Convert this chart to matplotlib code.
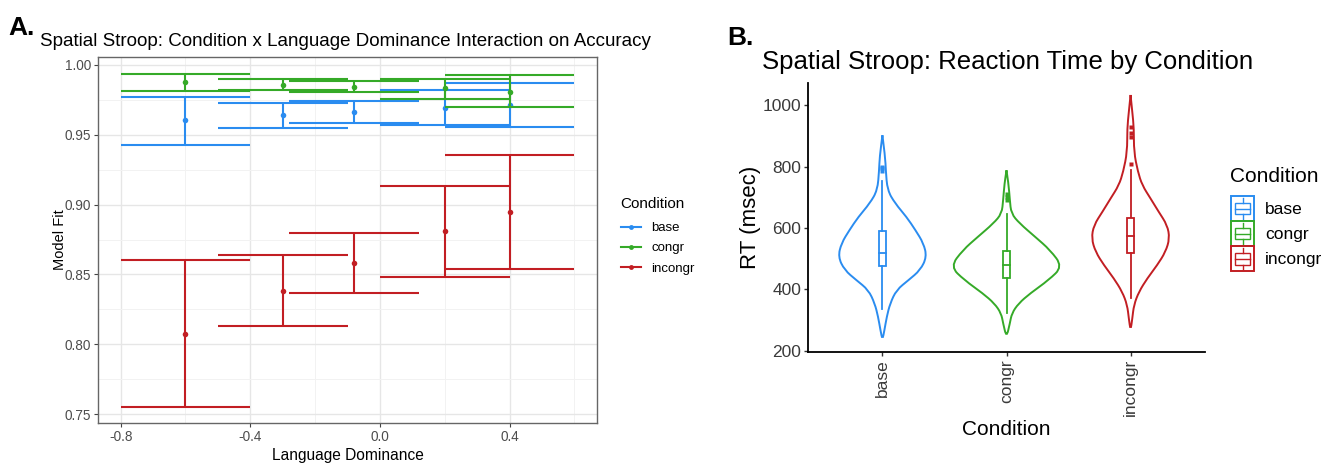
import numpy as np
import matplotlib
matplotlib.use("Agg")
import matplotlib.pyplot as plt
from matplotlib.path import Path
from matplotlib.patches import PathPatch, Rectangle
from matplotlib.lines import Line2D
from matplotlib.legend_handler import HandlerBase

plt.rcParams['font.family'] = ['Liberation Sans', 'DejaVu Sans']

# ---------------- Panel A data ----------------
conditions = ['base', 'congr', 'incongr']
dominance = [-0.6, -0.3, -0.08, 0.2, 0.4]
fit_base = [0.9604, 0.9640, 0.9664, 0.9695, 0.9714]
lo_base = [0.9430, 0.9549, 0.9583, 0.9571, 0.9559]
hi_base = [0.9771, 0.9728, 0.9740, 0.9818, 0.9873]
fit_congr = [0.9876, 0.9859, 0.9845, 0.9834, 0.9809]
lo_congr = [0.9816, 0.9821, 0.9807, 0.9755, 0.9697]
hi_congr = [0.9936, 0.9898, 0.9888, 0.9902, 0.9928]
fit_incongr = [0.8074, 0.8383, 0.8584, 0.8808, 0.8948]
lo_incongr = [0.7547, 0.8128, 0.8364, 0.8479, 0.8539]
hi_incongr = [0.8600, 0.8636, 0.8800, 0.9134, 0.9358]
a_xticks = [-0.8, -0.4, 0.0, 0.4]
a_yticks = [0.75, 0.80, 0.85, 0.90, 0.95, 1.00]

# ---------------- Panel B data ----------------
# violin outlines: RT level and half-width (category units)
vio_base_rt = [902, 832, 788, 723, 680, 636, 593, 550, 506, 463, 430, 398, 354, 311, 267, 235]
vio_base_hw = [0, .022, .027, .040, .102, .194, .266, .331, .357, .306, .210, .113, .062, .035, .016, 0]
vio_congr_rt = [788, 745, 691, 647, 615, 571, 528, 474, 430, 387, 354, 322, 289, 243]
vio_congr_hw = [0, .016, .027, .038, .105, .231, .352, .452, .339, .191, .097, .043, .027, 0]
vio_incongr_rt = [1033, 978, 924, 848, 783, 739, 696, 653, 609, 566, 522, 479, 436, 392, 349, 305, 265]
vio_incongr_hw = [0, .014, .027, .027, .059, .094, .161, .226, .296, .315, .282, .215, .135, .067, .027, .014, 0]
# box stats: lower whisker, Q1, median, Q3, upper whisker
box_base = [336, 477, 520, 591, 754]
box_congr = [322, 438, 479, 525, 647]
box_incongr = [371, 519, 574, 634, 788]
out_base = [785, 795, 800]
out_congr = [690, 702, 712]
out_incongr = [808, 897, 910, 930]
b_yticks = [200, 400, 600, 800, 1000]

col_base = '#2A8CF0'
col_congr = '#35AA28'
col_incongr = '#C21E23'
cols = [col_base, col_congr, col_incongr]

fig = plt.figure(figsize=(13.36, 4.65), dpi=100)

# ================= Panel A =================
axA = fig.add_axes([98/1336, 1-423/465, (597-98)/1336, (423-57)/465])
axA.set_xlim(-0.87, 0.67)
axA.set_ylim(0.7436, 1.0057)
axA.set_xticks(a_xticks)
axA.set_xticklabels(['-0.8', '-0.4', '0.0', '0.4'])
axA.set_yticks(a_yticks)
axA.set_yticklabels([f'{v:.2f}' for v in a_yticks])
axA.set_xticks([-0.6, -0.2, 0.2, 0.6], minor=True)
axA.set_yticks([0.775, 0.825, 0.875, 0.925, 0.975], minor=True)
axA.grid(True, which='major', color='#E6E6E6', lw=1.0)
axA.grid(True, which='minor', color='#F2F2F2', lw=0.7)
axA.set_axisbelow(True)
for s in axA.spines.values():
    s.set_color('#666666')
    s.set_linewidth(1.0)
axA.tick_params(axis='both', which='major', labelsize=9.8, colors='#444444',
                length=3, width=0.8, labelcolor='#4D4D4D', pad=2)
axA.tick_params(axis='both', which='minor', length=0)
axA.set_xlabel('Language Dominance', fontsize=11.2, labelpad=3)
axA.set_ylabel('Model Fit', fontsize=10.5, labelpad=-2)

series = [(fit_base, lo_base, hi_base), (fit_congr, lo_congr, hi_congr),
          (fit_incongr, lo_incongr, hi_incongr)]
capw = 0.2
for (fit, lo, hi), c in zip(series, cols):
    x = np.array(dominance)
    axA.vlines(x, lo, hi, color=c, lw=1.5)
    axA.hlines(lo, x - capw, x + capw, color=c, lw=1.5)
    axA.hlines(hi, x - capw, x + capw, color=c, lw=1.5)
    axA.plot(x, fit, 'o', color=c, ms=4, mec='none')

fig.text(40/1336, 1-41/465, 'Spatial Stroop: Condition x Language Dominance Interaction on Accuracy',
         fontsize=13.5, va='center', ha='left')
fig.text(8/1336, 1-28/465, 'A.', fontsize=19, fontweight='bold', va='center', ha='left',
         family=['Liberation Sans Narrow', 'Liberation Sans'])

fig.text(620/1336, 1-204/465, 'Condition', fontsize=11, va='center', ha='left')
handlesA = [Line2D([0], [0], color=c, lw=1.5, marker='o', ms=3.5, mec='none') for c in cols]
legA = fig.legend(handlesA, conditions, loc='upper left',
                  bbox_to_anchor=(621/1336, 1-222/465), frameon=False,
                  fontsize=9.5, borderpad=0, borderaxespad=0,
                  handlelength=1.5, labelspacing=0.6, handletextpad=0.8)

# ================= Panel B =================
axB = fig.add_axes([808/1336, 1-352/465, (1205-808)/1336, (352-83)/465])
axB.set_xlim(0.4, 3.6)
axB.set_ylim(196, 1072)
axB.set_yticks(b_yticks)
axB.set_xticks([1, 2, 3])
axB.set_xticklabels(conditions, rotation=90)
for side in ['top', 'right']:
    axB.spines[side].set_visible(False)
for side in ['left', 'bottom']:
    axB.spines[side].set_linewidth(1.3)
    axB.spines[side].set_color('black')
axB.tick_params(axis='both', labelsize=12.5, labelcolor='#3A3A3A', length=3, width=1.0,
                color='#333333', pad=2)
axB.set_xlabel('Condition', fontsize=15, labelpad=3)
axB.set_ylabel('RT (msec)', fontsize=16, labelpad=1)


def smooth_outline(xs, ys):
    """Quadratic Bezier path with the read points as control points."""
    pts = np.column_stack([xs, ys])
    verts = [pts[0]]
    codes = [Path.MOVETO]
    for i in range(1, len(pts) - 1):
        mid = (pts[i] + pts[i + 1]) / 2
        verts += [pts[i], mid]
        codes += [Path.CURVE3, Path.CURVE3]
    verts.append(pts[-1])
    codes.append(Path.LINETO)
    return Path(verts, codes)


violins = [(vio_base_rt, vio_base_hw), (vio_congr_rt, vio_congr_hw), (vio_incongr_rt, vio_incongr_hw)]
boxes = [box_base, box_congr, box_incongr]
outs = [out_base, out_congr, out_incongr]
bw = 0.055
for i, ((rt, hw), box, out, c) in enumerate(zip(violins, boxes, outs, cols)):
    cx = i + 1
    rt = np.array(rt, float)
    hw = np.array(hw, float)
    xs = np.concatenate([cx + hw, (cx - hw)[::-1][1:]])
    ys = np.concatenate([rt, rt[::-1][1:]])
    axB.add_patch(PathPatch(smooth_outline(xs, ys), fill=False, ec=c, lw=1.4, zorder=2))
    wl, q1, med, q3, wh = box
    axB.add_patch(Rectangle((cx - bw / 2, q1), bw, q3 - q1, fill=False, ec=c, lw=1.3, zorder=3))
    axB.plot([cx - bw / 2, cx + bw / 2], [med, med], color=c, lw=1.3, zorder=3)
    axB.plot([cx, cx], [wl, q1], color=c, lw=1.3, zorder=3)
    axB.plot([cx, cx], [q3, wh], color=c, lw=1.3, zorder=3)
    axB.plot([cx] * len(out), out, 's', color=c, ms=3.5, mec='none', zorder=3)

fig.text(762/1336, 1-62/465, 'Spatial Stroop: Reaction Time by Condition',
         fontsize=18.5, va='center', ha='left')
fig.text(727/1336, 1-38/465, 'B.', fontsize=19, fontweight='bold', va='center', ha='left',
         family=['Liberation Sans Narrow', 'Liberation Sans'])


class BoxKeyHandler(HandlerBase):
    def create_artists(self, legend, orig_handle, xdescent, ydescent, width, height, fontsize, trans):
        c = orig_handle.get_color()
        x0, y0 = -xdescent, -ydescent
        arts = [Rectangle((x0, y0), width, height, fill=False, ec=c, lw=1.4, transform=trans)]
        arts.append(Rectangle((x0 + 0.18 * width, y0 + 0.27 * height), 0.64 * width, 0.46 * height,
                              fill=False, ec=c, lw=1.0, transform=trans))
        arts.append(Line2D([x0 + 0.18 * width, x0 + 0.82 * width], [y0 + 0.5 * height] * 2,
                           color=c, lw=1.0, transform=trans))
        cxk = x0 + width / 2
        arts.append(Line2D([cxk, cxk], [y0 + 0.08 * height, y0 + 0.27 * height], color=c, lw=1.0, transform=trans))
        arts.append(Line2D([cxk, cxk], [y0 + 0.73 * height, y0 + 0.92 * height], color=c, lw=1.0, transform=trans))
        return arts


fig.text(1230/1336, 1-177/465, 'Condition', fontsize=15, va='center', ha='left')
handlesB = [Line2D([0], [0], color=c) for c in cols]
legB = fig.legend(handlesB, conditions, loc='upper left',
                  bbox_to_anchor=(1231/1336, 1-196/465), frameon=False,
                  fontsize=12.5, borderpad=0, borderaxespad=0,
                  handlelength=1.35, handleheight=1.85, labelspacing=0.0, handletextpad=0.6,
                  handler_map={Line2D: BoxKeyHandler()})

fig.savefig('out.png', dpi=100)
